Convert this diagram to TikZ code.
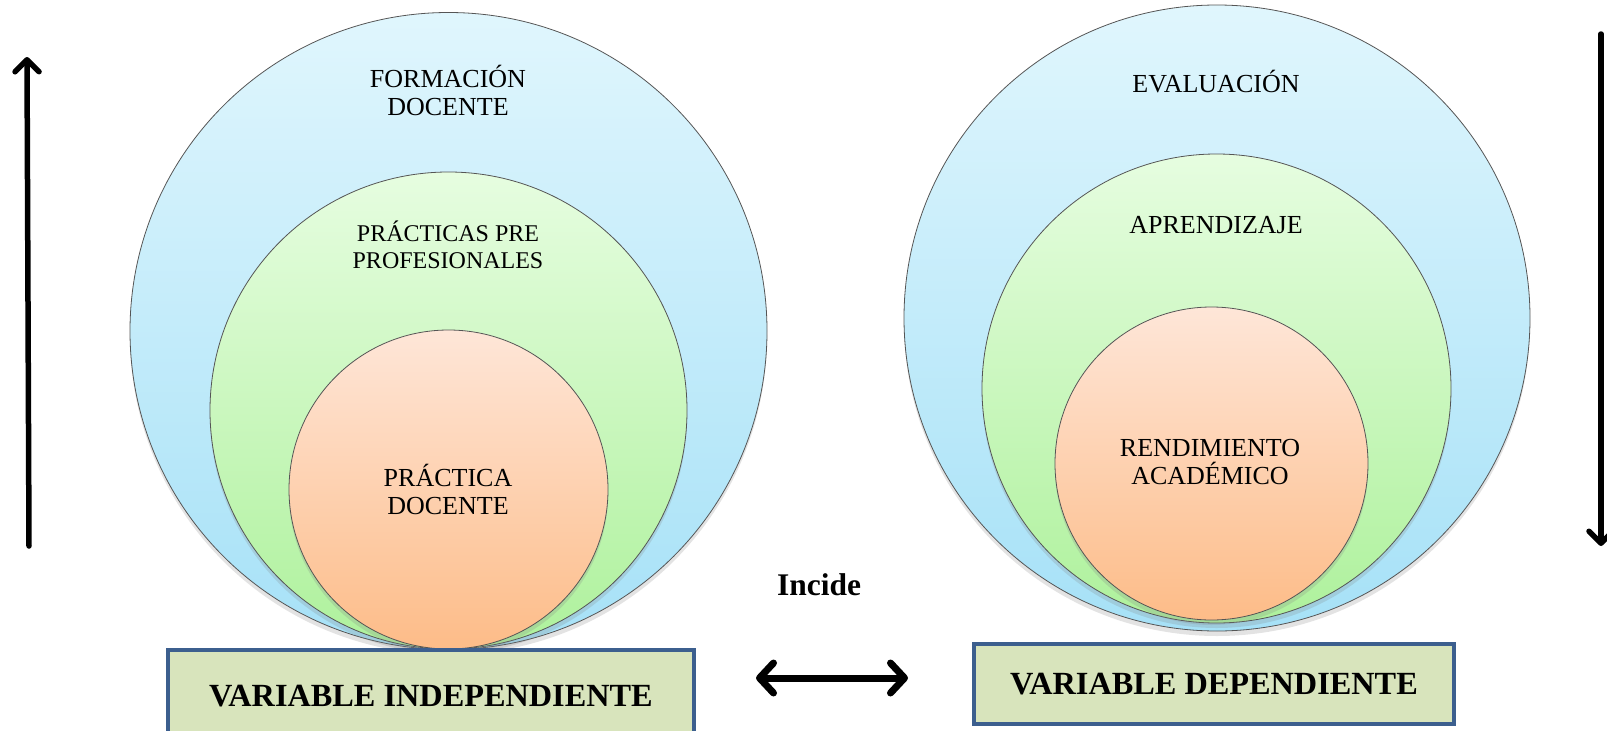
\documentclass[tikz,border=0pt]{standalone}
\usepackage{fontspec}
\setmainfont{Liberation Serif}
\usetikzlibrary{arrows.meta,shadows}
\definecolor{blueT}{HTML}{E0F6FD}
\definecolor{blueB}{HTML}{A6E1F7}
\definecolor{greenT}{HTML}{E6FDE0}
\definecolor{greenB}{HTML}{AEF19C}
\definecolor{orangeT}{HTML}{FEE6D8}
\definecolor{orangeB}{HTML}{FDBC88}
\definecolor{boxfill}{HTML}{D8E4BC}
\definecolor{boxline}{HTML}{3C5F8E}
\definecolor{ringline}{HTML}{555555}
\begin{document}
\begin{tikzpicture}[x=1pt,y=-1pt,
  ring/.style={circle,draw=ringline,line width=0.8pt,inner sep=0pt,outer sep=0pt,
    drop shadow={opacity=0.22,shadow xshift=0pt,shadow yshift=-5pt}},
  bluering/.style={ring,top color=blueT,bottom color=blueB},
  greenring/.style={ring,top color=greenT,bottom color=greenB},
  orangering/.style={ring,top color=orangeT,bottom color=orangeB},
  ringtext/.style={align=center,inner sep=0pt,font=\fontsize{26}{28}\selectfont},
  varbox/.style={draw=boxline,line width=4.5pt,fill=boxfill,inner sep=0pt,
    font=\fontsize{32.3}{35}\selectfont\bfseries},
  vertarrow/.style={line width=5.5pt,line cap=round,
    -{Straight Barb[length=12pt,width=24pt,line cap=round,line join=round]}},
  botharrow/.style={line width=7pt,line cap=round,
    {Straight Barb[length=14pt,width=30pt,line cap=round,line join=round]}-{Straight Barb[length=14pt,width=30pt,line cap=round,line join=round]}}
]
\useasboundingbox (0,0) rectangle (1607,731);
% left set of circles
\node[bluering,minimum size=637pt] (lblue) at (448.5,331) {};
\node[greenring,minimum size=477pt] (lgreen) at (448.5,410.5) {};
\node[orangering,minimum size=319pt] (lorange) at (448.5,489.5) {};
% right set of circles
\node[bluering,minimum size=626pt] (rblue) at (1217,318) {};
\node[greenring,minimum size=469pt] (rgreen) at (1216.5,388.5) {};
\node[orangering,minimum size=313pt] (rorange) at (1211.5,463.5) {};
% texts in circles
\node[ringtext] (t1) at (448,90) {FORMACIÓN\\DOCENTE};
\node[ringtext,font=\fontsize{24}{26.5}\selectfont] (t2) at (448,245) {PRÁCTICAS PRE\\PROFESIONALES};
\node[ringtext] (t3) at (448,489) {PRÁCTICA\\DOCENTE};
\node[ringtext] (t4) at (1216,82) {EVALUACIÓN};
\node[ringtext] (t5) at (1216,225) {APRENDIZAJE};
\node[ringtext] (t6) at (1210,462) {RENDIMIENTO\\ACADÉMICO};
% variable boxes
\node[varbox,minimum width=526pt,minimum height=92pt] (vi) at (431,696) {VARIABLE INDEPENDIENTE};
\node[varbox,minimum width=480pt,minimum height=80pt] (vd) at (1214,684) {VARIABLE DEPENDIENTE};
% Incide
\node[inner sep=0pt,font=\fontsize{31.5}{34}\selectfont\bfseries] (inc) at (819,585) {Incide};
% arrows
\coordinate (la1) at (29,546);
\coordinate (la2) at (27,57);
\coordinate (ra1) at (1601,34);
\coordinate (ra2) at (1601,546);
\coordinate (da1) at (756,678);
\coordinate (da2) at (908,678);
\draw[vertarrow] (la1) -- (la2);
\draw[vertarrow] (ra1) -- (ra2);
\draw[botharrow] (da1) -- (da2);
\end{tikzpicture}
\end{document}
